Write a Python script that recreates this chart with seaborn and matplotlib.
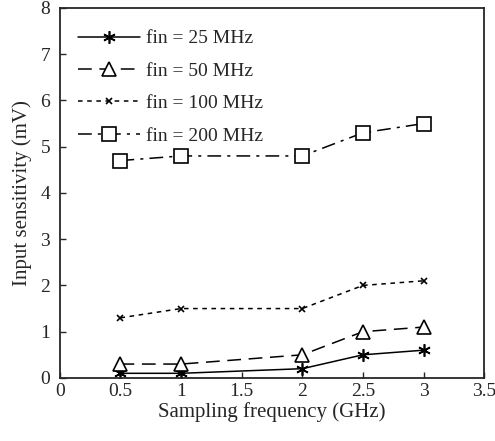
import numpy as np
import pandas as pd
import matplotlib
matplotlib.use("Agg")
import matplotlib.pyplot as plt
import seaborn as sns

# Data
sampling_ghz = [0.5, 1, 2, 2.5, 3]
fin_25 = [0.1, 0.1, 0.2, 0.5, 0.6]
fin_50 = [0.3, 0.3, 0.5, 1.0, 1.1]
fin_100 = [1.3, 1.5, 1.5, 2.0, 2.1]
fin_200 = [4.7, 4.8, 4.8, 5.3, 5.5]
labels = ["fin = 25 MHz", "fin = 50 MHz", "fin = 100 MHz", "fin = 200 MHz"]

sns.set_style("ticks")
plt.rcParams["font.family"] = ["Liberation Serif", "DejaVu Serif"]
plt.rcParams["xtick.direction"] = "in"
plt.rcParams["ytick.direction"] = "in"

frames = []
for lab, vals in zip(labels, [fin_25, fin_50, fin_100, fin_200]):
    frames.append(pd.DataFrame({"f": sampling_ghz, "s": vals, "series": lab}))
df = pd.concat(frames)

fig = plt.figure(figsize=(4.95, 4.41), dpi=100)
ax = fig.add_axes([0.121, 0.143, 0.857, 0.839])

styles = {
    labels[0]: dict(ls="-", marker=(6, 2, 0), ms=9, mew=1.2),
    labels[1]: dict(ls=(0, (9, 5)), marker="^", ms=10, mew=1.2),
    labels[2]: dict(ls=(0, (3, 3)), marker="x", ms=5, mew=1.2),
    labels[3]: dict(ls=(0, (9, 4, 2, 4)), marker="s", ms=10, mew=1.2),
}

for lab in labels:
    st = styles[lab]
    sns.lineplot(data=df[df["series"] == lab], x="f", y="s", ax=ax, color="black",
                 linestyle=st["ls"], marker=st["marker"], markersize=st["ms"],
                 markeredgewidth=st["mew"], markerfacecolor="white",
                 markeredgecolor="black", lw=1.1, label=lab)

ax.set_xlim(0, 3.5)
ax.set_ylim(0, 8)
ax.set_xticks([0, 0.5, 1, 1.5, 2, 2.5, 3, 3.5])
ax.set_xticklabels(["0", "0.5", "1", "1.5", "2", "2.5", "3", "3.5"])
ax.set_yticks(range(0, 9))
ax.tick_params(labelsize=14, length=4, width=1, top=False, right=False)
ax.tick_params(axis="y", pad=7)
for sp in ax.spines.values():
    sp.set_linewidth(1.3)
ax.set_xlabel("Sampling frequency (GHz)", fontsize=15, labelpad=2)
ax.set_ylabel("Input sensitivity (mV)", fontsize=15, labelpad=6)

leg = ax.legend(loc="upper left", bbox_to_anchor=(0.024, 0.962), borderaxespad=0,
                frameon=False, fontsize=14, handlelength=3.2,
                handletextpad=0.3, labelspacing=0.76)

fig.savefig("out.png", dpi=100)
